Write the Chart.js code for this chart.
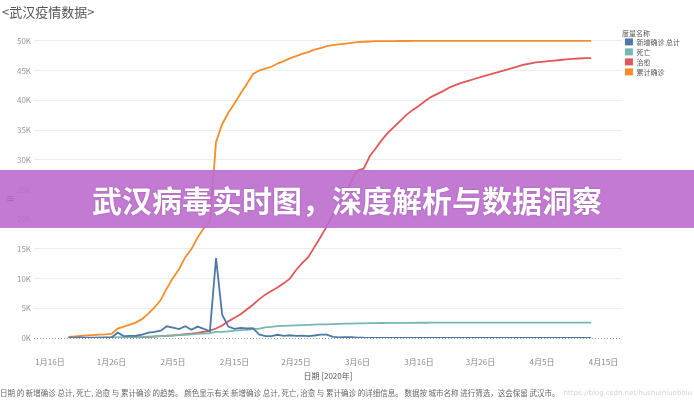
<!DOCTYPE html>
<html lang="zh">
<head>
<meta charset="utf-8">
<title>武汉疫情数据</title>
<script src="https://cdn.jsdelivr.net/npm/chart.js@4.4.1/dist/chart.umd.min.js"></script>
<style>
  html, body { margin: 0; padding: 0; background: #fff; }
  body {
    width: 694px; height: 400px; position: relative; overflow: hidden;
    font-family: "Noto Sans CJK SC", "Noto Sans", sans-serif;
  }
  #wrap { position: absolute; left: 0; top: 0; width: 694px; height: 400px; }
  #sheetTitle { position: absolute; left: 2px; top: 3px; font-size: 13px; line-height: 18px; color: #555; }
  #caption { position: absolute; left: 0; top: 387px; font-size: 7.5px; line-height: 12px; color: #666; white-space: nowrap; }
  #mark { position: absolute; right: 2px; top: 387px; font-size: 7px; line-height: 12px; color: #d4d4d4; font-family: "DejaVu Sans", sans-serif; }
  #banner {
    position: absolute; left: 0; top: 170px; width: 694px; height: 58px;
    background: rgba(188, 108, 206, 0.9);
    display: flex; align-items: center; justify-content: center;
    color: #fff; font-weight: bold; font-size: 30px;
    text-shadow: 0 0 2px rgba(0, 0, 0, 0.25);
  }
  #menu { position: absolute; left: 6px; top: 192px; font-size: 9px; color: rgba(110, 50, 130, 0.55); }
</style>
</head>
<body>
<div id="wrap"><canvas id="trendChart"></canvas></div>
<div id="sheetTitle">&lt;武汉疫情数据&gt;</div>
<div id="banner">武汉病毒实时图，深度解析与数据洞察</div>
<div id="menu">≡</div>
<div id="caption">日期 的 新增确诊 总计, 死亡, 治愈 与 累计确诊 的趋势。 颜色显示有关 新增确诊 总计, 死亡, 治愈 与 累计确诊 的详细信息。 数据按 城市名称 进行筛选，这会保留 武汉市。</div>
<div id="mark">https://blog.csdn.net/hushuiniuobolu</div>
<script>
// Daily values, 1月19日 .. 4月13日 (one entry per day)
const firstDay = 3; // 1月19日, counted in days from 1月16日

// 新增确诊 总计
const newConfirmed = [
    77, 60, 105, 62, 70, 77, 46, 80, 892, 315, 356, 378, 576,
    894, 1033, 1242, 1967, 1766, 1501, 1985, 1379, 1920, 1552, 1104, 13436, 3910, 1923, 1548,
    1690, 1600, 1660, 615, 319, 314, 541, 348, 464, 370, 383, 313, 420, 565,
    570, 193, 111, 131, 126, 74, 41, 36, 17, 13, 8, 5, 4, 4, 4, 1, 1,
    0, 0, 0, 0, 0, 0, 1, 0, 0, 0, 0, 0, 0, 0,
    0, 0, 0, 0, 0, 0, 0, 0, 0, 0, 0, 0, 0
];

// 死亡
const deaths = [
    3, 6, 9, 17, 24, 39, 45, 63, 85, 104, 129, 159, 192,
    224, 265, 313, 362, 414, 478, 545, 608, 681, 748, 820, 1036, 1016, 1123, 1233,
    1309, 1381, 1497, 1585, 1774, 1856, 1987, 2043, 2085, 2141, 2184, 2226, 2251, 2282,
    2305, 2343, 2368, 2404, 2430, 2456, 2478, 2495, 2508, 2524, 2531, 2538, 2548, 2554, 2563, 2567, 2570,
    2572, 2573, 2574, 2575, 2576, 2577, 2577, 2578, 2578, 2579, 2579, 2579, 2579, 2579,
    2579, 2579, 2579, 2579, 2579, 2579, 2579, 2579, 2579, 2579, 2579, 2579, 2579
];

// 治愈
const cured = [
    25, 25, 25, 28, 31, 32, 40, 42, 44, 47, 60, 90, 110,
    165, 224, 300, 380, 450, 530, 640, 750, 880, 1050, 1250, 1600, 2100, 2800, 3400,
    4000, 4800, 5600, 6500, 7300, 7900, 8500, 9200, 10000, 11400, 12600, 13600, 15300, 17000,
    18800, 20800, 22500, 24200, 26400, 28200, 28500, 30600, 32000, 33400, 34600, 35600, 36600, 37600, 38400, 39100, 39900,
    40600, 41100, 41600, 42200, 42600, 43000, 43300, 43600, 43900, 44200, 44500, 44800, 45100, 45400,
    45700, 46000, 46200, 46400, 46500, 46600, 46700, 46800, 46900, 47000, 47050, 47100, 47100
];

// 累计确诊
const totalConfirmed = [
    198, 258, 363, 425, 495, 572, 618, 698, 1590, 1905, 2261, 2639, 3215,
    4109, 5142, 6384, 8351, 10117, 11618, 13603, 14982, 16902, 18454, 19558, 32994, 35991, 37914, 39462,
    41152, 42752, 44412, 45027, 45346, 45660, 46201, 46607, 47071, 47441, 47824, 48137, 48557, 48795,
    49122, 49315, 49426, 49557, 49671, 49797, 49871, 49912, 49965, 49978, 49986, 49991, 49995, 49999, 50003, 50004, 50005,
    50005, 50005, 50005, 50005, 50006, 50006, 50006, 50006, 50006, 50006, 50006, 50006, 50006, 50006,
    50006, 50006, 50007, 50007, 50007, 50008, 50008, 50008, 50008, 50008, 50008, 50008, 50008
];

// Axis ticks (x in days from 1月16日)
const tickDays = [0, 10, 20, 30, 40, 50, 60, 70, 80, 90];
const tickLabels = ['1月16日', '1月26日', '2月5日', '2月15日', '2月25日', '3月6日', '3月16日', '3月26日', '4月5日', '4月15日'];
const yTicks = [0, 5000, 10000, 15000, 20000, 25000, 30000, 35000, 40000, 45000, 50000];

const seriesNames = ['新增确诊 总计', '死亡', '治愈', '累计确诊'];
const seriesColors = ['#4e79a7', '#76b7b2', '#e15759', '#f28e2b'];
const seriesData = [newConfirmed, deaths, cured, totalConfirmed];

const days = newConfirmed.map((_, i) => firstDay + i);

// Dotted zero reference line, like Tableau draws it
const zeroLine = {
    id: 'zeroLine',
    beforeDatasetsDraw(chart) {
        const { ctx, chartArea, scales } = chart;
        const y = Math.round(scales.y.getPixelForValue(0)) + 0.5;
        ctx.save();
        ctx.strokeStyle = '#9a9a9a';
        ctx.lineWidth = 1;
        ctx.setLineDash([1, 2]);
        ctx.beginPath();
        ctx.moveTo(chartArea.left, y);
        ctx.lineTo(chartArea.right, y);
        ctx.stroke();
        ctx.restore();
    }
};

const font = '"Noto Sans CJK SC", "Noto Sans", sans-serif';

new Chart(document.getElementById('trendChart'), {
    type: 'line',
    data: {
        labels: days,
        datasets: seriesNames.map((name, i) => ({
            label: name,
            data: seriesData[i],
            borderColor: seriesColors[i],
            backgroundColor: seriesColors[i],
            borderWidth: 1.8,
            pointRadius: 0,
            tension: 0,
        })),
    },
    options: {
        responsive: true,
        maintainAspectRatio: false,
        animation: false,
        layout: { padding: { top: 30, left: 0, right: 4, bottom: 14 } },
        plugins: {
            tooltip: { enabled: false },
            legend: {
                position: 'right',
                align: 'start',
                title: {
                    display: true,
                    text: '度量名称',
                    position: 'start',
                    color: '#555',
                    font: { family: font, size: 7 },
                    padding: { top: 0, bottom: -3 },
                },
                labels: {
                    boxWidth: 8,
                    boxHeight: 7,
                    padding: 3,
                    color: '#555',
                    font: { family: font, size: 7 },
                    generateLabels(chart) {
                        return Chart.defaults.plugins.legend.labels.generateLabels(chart)
                            .map(item => ({ ...item, lineWidth: 0 }));
                    },
                },
            },
        },
        scales: {
            x: {
                type: 'linear',
                min: -2.6,
                max: 93,
                grid: { display: false, drawTicks: false },
                border: { display: false },
                afterBuildTicks(scale) {
                    scale.ticks = tickDays.map(v => ({ value: v }));
                },
                afterFit(scale) { scale.height = 48; },
                ticks: {
                    autoSkip: false,
                    maxRotation: 0,
                    padding: 19,
                    color: '#888',
                    font: { family: font, size: 8 },
                    callback: (value, index) => tickLabels[index],
                },
                title: {
                    display: true,
                    text: '日期 [2020年]',
                    color: '#555',
                    font: { family: font, size: 8 },
                    padding: { top: 0, bottom: 5 },
                },
            },
            y: {
                min: 0,
                max: 51850,
                grid: {
                    drawTicks: false,
                    color: ctx => (ctx.tick && ctx.tick.value === 0 ? 'transparent' : '#ededed'),
                },
                border: { display: false },
                afterBuildTicks(scale) {
                    scale.ticks = yTicks.map(v => ({ value: v }));
                },
                afterFit(scale) { scale.width = 34; },
                ticks: {
                    padding: 3,
                    color: '#999',
                    font: { family: font, size: 8 },
                    callback: value => (value / 1000) + 'K',
                },
            },
        },
    },
    plugins: [zeroLine],
});
</script>
</body>
</html>
